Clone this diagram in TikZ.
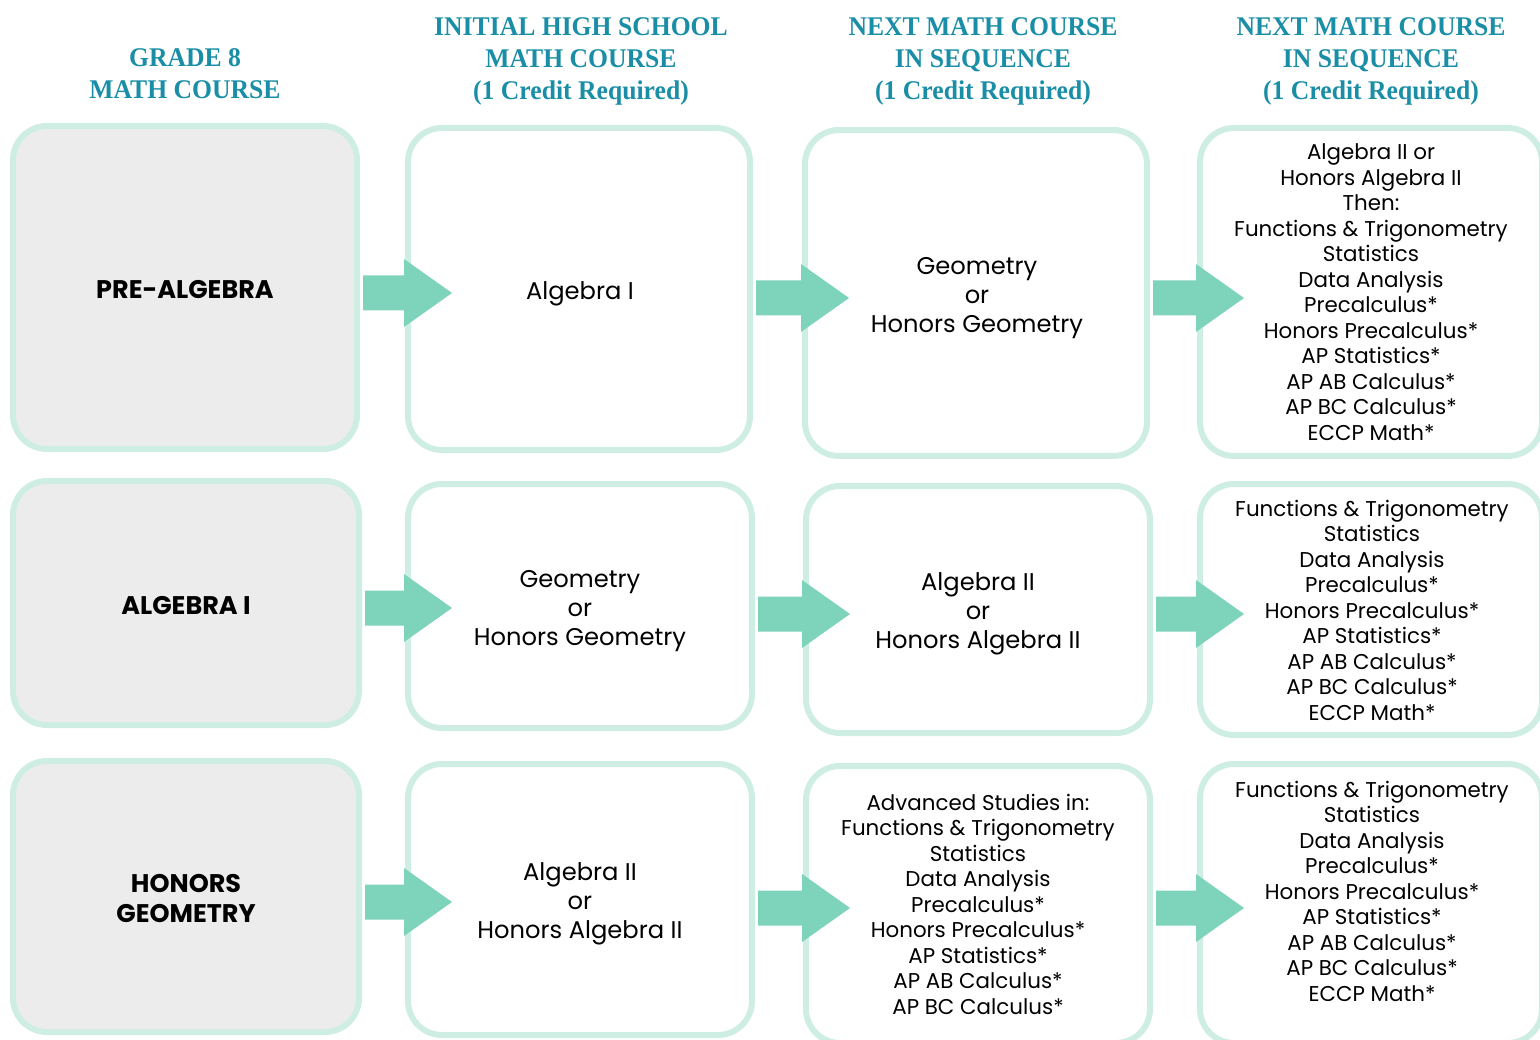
\documentclass[tikz,border=0pt]{standalone}
\usepackage{fontspec}
\setmainfont{Poppins}
\newfontfamily\headfont[FakeStretch=0.95]{Liberation Serif}
\usetikzlibrary{calc}
\definecolor{mint}{HTML}{CFEEE3}
\definecolor{arrowmint}{HTML}{7ED3BB}
\definecolor{graybox}{HTML}{ECECEC}
\definecolor{headteal}{HTML}{1A8EA6}
\newcommand\fatarrow[3]{%
  \fill[arrowmint] let \p1=(#1.east), \p2=(#2.west) in
    ({\x1+3pt},{-#3pt+17.5pt}) -- ({\x2-1pt},{-#3pt+17.5pt}) -- ({\x2-1pt},{-#3pt+34pt})
    -- ({\x2+47pt},{-#3pt}) -- ({\x2-1pt},{-#3pt-34pt}) -- ({\x2-1pt},{-#3pt-17.5pt})
    -- ({\x1+3pt},{-#3pt-17.5pt}) -- cycle;}
\begin{document}
\begin{tikzpicture}[x=1pt,y=-1pt,
  box/.style={draw=mint,line width=6pt,rounded corners=34pt,fill=white,inner sep=0pt},
  gbox/.style={box,fill=graybox},
  head/.style={align=center,inner sep=0pt,text=headteal,font=\headfont\bfseries\fontsize{27}{32}\selectfont},
  txt/.style={align=center,inner sep=0pt,font=\fontsize{21.4}{25.5}\selectfont},
  big/.style={align=center,inner sep=0pt,font=\fontsize{24.2}{29}\selectfont},
  lab/.style={align=center,inner sep=0pt,font=\bfseries\fontsize{25.5}{30}\selectfont}]
\useasboundingbox (0,0) rectangle (1540,1040);
% headers
\node[head] (H1) at (185,74) {GRADE 8\\MATH COURSE};
\node[head] (H2) at (581,61) {INITIAL HIGH SCHOOL\\MATH COURSE\\(1 Credit Required)};
\node[head] (H3) at (983,61) {NEXT MATH COURSE\\IN SEQUENCE\\(1 Credit Required)};
\node[head] (H4) at (1371,61) {NEXT MATH COURSE\\IN SEQUENCE\\(1 Credit Required)};
% row 1
\node[gbox,minimum width=344pt,minimum height=323pt] (A1) at (185,287.5) {};
\node[box,minimum width=342pt,minimum height=322pt] (B1) at (579,289) {};
\node[box,minimum width=342pt,minimum height=326pt] (C1) at (976,293) {};
\node[box,minimum width=342pt,minimum height=328pt] (D1) at (1371,292) {};
% row 2
\node[gbox,minimum width=346pt,minimum height=244pt] (A2) at (186,603) {};
\node[box,minimum width=344pt,minimum height=244pt] (B2) at (580,606) {};
\node[box,minimum width=344pt,minimum height=247pt] (C2) at (978,609.5) {};
\node[box,minimum width=342pt,minimum height=251pt] (D2) at (1371,609.5) {};
% row 3
\node[gbox,minimum width=346pt,minimum height=271pt] (A3) at (186,896.5) {};
\node[box,minimum width=344pt,minimum height=271pt] (B3) at (580,899.5) {};
\node[box,minimum width=344pt,minimum height=277pt] (C3) at (978,904.5) {};
\node[box,minimum width=342pt,minimum height=279pt] (D3) at (1371,903.5) {};
% arrows
\fatarrow{A1}{B1}{293}
\fatarrow{B1}{C1}{298}
\fatarrow{C1}{D1}{298}
\fatarrow{A2}{B2}{608}
\fatarrow{B2}{C2}{614}
\fatarrow{C2}{D2}{614}
\fatarrow{A3}{B3}{902}
\fatarrow{B3}{C3}{908}
\fatarrow{C3}{D3}{908}
% texts
\node[lab] (A1t) at (185,290) {PRE-ALGEBRA};
\node[lab] (A2t) at (186,606) {ALGEBRA I};
\node[lab] (A3t) at (186,899) {HONORS\\GEOMETRY};
\node[big] (B1t) at (580,294) {Algebra I};
\node[big] (B2t) at (580,611) {Geometry\\or\\Honors Geometry};
\node[big] (B3t) at (580,904) {Algebra II\\or\\Honors Algebra II};
\node[big] (C1t) at (977,298) {Geometry\\or\\Honors Geometry};
\node[big] (C2t) at (978,614) {Algebra II\\or\\Honors Algebra II};
\node[txt] (C3t) at (978,904) {Advanced Studies in:\\Functions \& Trigonometry\\Statistics\\Data Analysis\\Precalculus*\\Honors Precalculus*\\AP Statistics*\\AP AB Calculus*\\AP BC Calculus*};
\node[txt] (D1t) at (1371,292) {Algebra II or\\Honors Algebra II\\Then:\\Functions \& Trigonometry\\Statistics\\Data Analysis\\Precalculus*\\Honors Precalculus*\\AP Statistics*\\AP AB Calculus*\\AP BC Calculus*\\ECCP Math*};
\node[txt] (D2t) at (1372,610) {Functions \& Trigonometry\\Statistics\\Data Analysis\\Precalculus*\\Honors Precalculus*\\AP Statistics*\\AP AB Calculus*\\AP BC Calculus*\\ECCP Math*};
\node[txt] (D3t) at (1372,891) {Functions \& Trigonometry\\Statistics\\Data Analysis\\Precalculus*\\Honors Precalculus*\\AP Statistics*\\AP AB Calculus*\\AP BC Calculus*\\ECCP Math*};
\end{tikzpicture}
\end{document}
